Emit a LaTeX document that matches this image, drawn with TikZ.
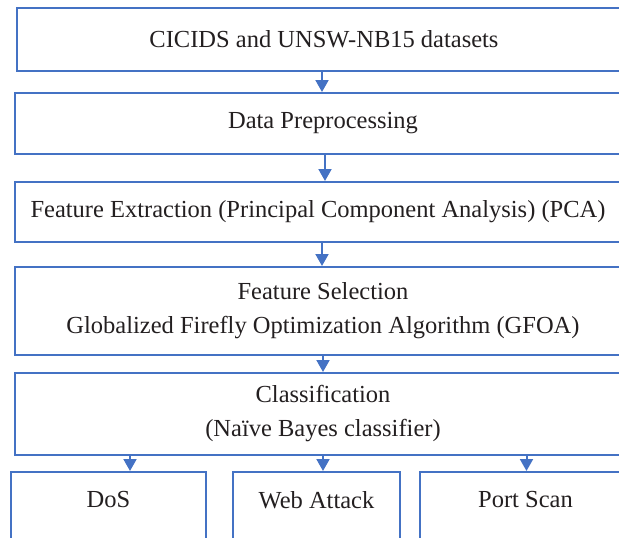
\documentclass[tikz,border=0pt]{standalone}
\usepackage{fontspec}
\setmainfont{Liberation Serif}
\usetikzlibrary{arrows.meta,positioning}
\definecolor{frame}{HTML}{4472C4}
\definecolor{ink}{HTML}{231F20}
\tikzset{
  stage/.style={draw=frame, line width=2pt, rectangle, inner sep=0pt,
    anchor=north west, text=ink, align=center,
    font=\fontsize{24.5}{34}\selectfont},
  leaf/.style={draw=frame, line width=2pt, rectangle, inner sep=0pt,
    anchor=north west, minimum height=80pt},
  leaftext/.style={text=ink, font=\fontsize{24.5}{34}\selectfont},
  flow/.style={draw=frame, line width=2pt,
    -{Triangle[width=13pt,length=12pt]}},
}
\begin{document}
\begin{tikzpicture}[x=1pt,y=-1pt]
\useasboundingbox (0,0) rectangle (619,538);
\clip (0,0) rectangle (619,538);

% pipeline stages
\node[stage, minimum width=614pt, minimum height=63pt] (b1) at (16,7)
  {CICIDS and UNSW-NB15 datasets};
\node[stage, minimum width=616pt, minimum height=61pt] (b2) at (14,92)
  {Data Preprocessing};
\node[stage, minimum width=606pt, minimum height=60pt] (b3) at (14,181)
  {Feature Extraction (Principal Component Analysis) (PCA)};
\draw[frame, line width=2pt] (b3.north east) -- ++(12,0) (b3.south east) -- ++(12,0);
\node[stage, minimum width=616pt, minimum height=88pt] (b4) at (14,266)
  {Feature Selection\\Globalized Firefly Optimization Algorithm (GFOA)};
\node[stage, minimum width=616pt, minimum height=82pt] (b5) at (14,372)
  {Classification\\(Naïve Bayes classifier)};

% attack classes
\node[leaf, minimum width=195pt] (dos) at (10,471) {};
\node[leaf, minimum width=167pt] (web) at (232,471) {};
\node[leaf, minimum width=211pt] (port) at (419,471) {};
\node[leaftext] (dosl) at ([yshift=-29pt]dos.north) {DoS};
\node[leaftext] (webl) at ([yshift=-29pt]web.north) {Web Attack};
\node[leaftext] (portl) at ([yshift=-29pt]port.north) {Port Scan};

% connectors
\draw[flow] ([xshift=-2pt]b1.south) -- ([xshift=-1pt]b2.north);
\draw[flow] ([xshift=2pt]b2.south) -- ([xshift=7pt]b3.north);
\draw[flow] ([xshift=4pt]b3.south) -- ([xshift=-1pt]b4.north);
\draw[flow] ([xshift=0pt]b4.south) -- ([xshift=0pt]b5.north);
\draw[flow] (b5.south -| dos.north) ++(21.5,0) coordinate (d0) -- (d0 |- dos.north);
\draw[flow] ([xshift=6.5pt]web.north |- b5.south) -- ([xshift=6.5pt]web.north);
\draw[flow] ([xshift=1pt]port.north |- b5.south) -- ([xshift=1pt]port.north);
\end{tikzpicture}
\end{document}
